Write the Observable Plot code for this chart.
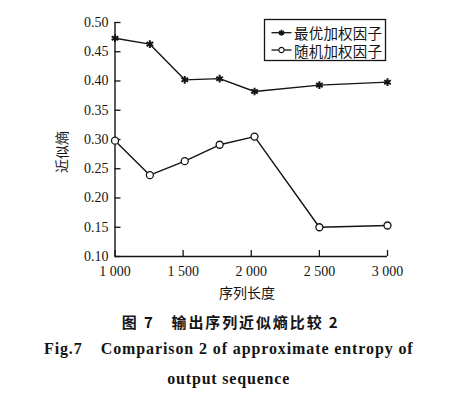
<!DOCTYPE html>
<html><head><meta charset="utf-8">
<script src="https://cdn.jsdelivr.net/npm/d3@7"></script>
<script src="https://cdn.jsdelivr.net/npm/@observablehq/plot@0.6"></script>
<style>
body{margin:0;background:#fff;}
#wrap{position:relative;width:464px;height:396px;overflow:hidden;background:#fff;}
#wrap svg{display:block;overflow:visible;}
</style></head><body>
<div id="wrap"></div>
<script>
// ---- data ----
const seqLength = [1000, 1256, 1512, 1768, 2024, 2500, 3000];
const optimalWeights = [0.473, 0.463, 0.402, 0.404, 0.382, 0.393, 0.398];
const randomWeights  = [0.298, 0.239, 0.263, 0.291, 0.305, 0.150, 0.153];
const seriesNames = ["最优加权因子", "随机加权因子"];
const xTicks = [1000, 1500, 2000, 2500, 3000];
const yTicks = [0.10, 0.15, 0.20, 0.25, 0.30, 0.35, 0.40, 0.45, 0.50];
const xLabel = "序列长度";
const yLabel = "近似熵";
const captionCN = "图 7　输出序列近似熵比较 2";
const captionFig = "Fig.7";
const captionEN1 = "Comparison 2 of approximate entropy of";
const captionEN2 = "output sequence";

const rows = seqLength.flatMap((x, i) => [
  {x, y: optimalWeights[i], s: seriesNames[0]},
  {x, y: randomWeights[i], s: seriesNames[1]}
]);

const ink = "#141414";
const W = 464, H = 302;
const serif = "'Liberation Serif','Times New Roman',serif";
const cjk = "'Noto Sans CJK SC',sans-serif";

const plot = Plot.plot({
  width: W, height: H,
  marginLeft: 114.5, marginRight: 77, marginTop: 22, marginBottom: H - 256,
  style: {fontFamily: serif, fontSize: "14px", color: ink, background: "#fff"},
  x: {domain: [1000, 3000]},
  y: {domain: [0.10, 0.50]},
  marks: [
    Plot.ruleX([1000], {stroke: ink, strokeWidth: 1.4}),
    Plot.ruleY([0.10], {stroke: ink, strokeWidth: 1.4}),
    Plot.axisX({ticks: xTicks, tickSize: -6, tickPadding: 16, strokeWidth: 1.3,
      tickFormat: d => d3.format(",")(d).replace(",", " "), label: null}),
    Plot.axisY({ticks: yTicks, tickSize: -6, tickPadding: 12.5, strokeWidth: 1.3,
      tickFormat: d => d.toFixed(2), label: null}),
    Plot.line(rows, {x: "x", y: "y", z: "s", stroke: ink, strokeWidth: 1.4}),
    Plot.dot(rows.filter(d => d.s === seriesNames[0]), {x: "x", y: "y", symbol: "asterisk", r: 3.6, stroke: ink, strokeWidth: 2}),
    Plot.dot(rows.filter(d => d.s === seriesNames[1]), {x: "x", y: "y", symbol: "circle", r: 3.5, fill: "#fff", stroke: ink, strokeWidth: 1.3})
  ]
});
document.getElementById("wrap").appendChild(plot);

const svg = d3.select(plot);
// axis titles
svg.append("text").attr("x", 247).attr("y", 291.5).attr("text-anchor", "middle")
  .attr("dominant-baseline", "central").attr("font-family", cjk).attr("font-size", 14)
  .attr("fill", ink).text(xLabel);
svg.append("text").attr("transform", "translate(61,152) rotate(-90)").attr("text-anchor", "middle")
  .attr("dominant-baseline", "central").attr("font-family", cjk).attr("font-size", 14)
  .attr("fill", ink).text(yLabel);

// legend
const lg = svg.append("g").attr("text-anchor", "start");
lg.append("rect").attr("x", 264.5).attr("y", 19.5).attr("width", 121).attr("height", 41)
  .attr("fill", "#fff").attr("stroke", ink).attr("stroke-width", 1.3);
const legendSym = [d3.symbolAsterisk, d3.symbolCircle];
const legendY = [32.7, 50];
seriesNames.forEach((name, i) => {
  const y = legendY[i];
  lg.append("line").attr("x1", 271.5).attr("x2", 291.5).attr("y1", y).attr("y2", y)
    .attr("stroke", ink).attr("stroke-width", 1.3);
  lg.append("path").attr("transform", `translate(281.5,${y})`)
    .attr("d", d3.symbol(legendSym[i], i === 0 ? 24 : 22)())
    .attr("fill", i === 0 ? "none" : "#fff").attr("stroke", ink).attr("stroke-width", i === 0 ? 1.8 : 1.2);
  lg.append("text").attr("x", 294).attr("y", y).attr("text-anchor", "start").attr("dominant-baseline", "central")
    .attr("font-family", cjk).attr("font-size", 14.5).attr("fill", ink)
    .attr("textLength", 88).attr("lengthAdjust", "spacing").text(name);
});

// captions
const cap = d3.select("#wrap").append("svg").attr("width", W).attr("height", 396 - H);
const oy = H;
cap.append("text").attr("x", 121.7).attr("y", 321.7 - oy).attr("dominant-baseline", "central")
  .attr("font-family", cjk).attr("font-weight", 700).attr("font-size", 15).attr("fill", ink)
  .attr("textLength", 216).attr("lengthAdjust", "spacing").text(captionCN);
cap.append("text").attr("x", 44).attr("y", 348.5 - oy).attr("dominant-baseline", "central")
  .attr("font-family", serif).attr("font-weight", 700).attr("font-size", 16).attr("fill", ink)
  .attr("textLength", 37.7).attr("lengthAdjust", "spacing").text(captionFig);
cap.append("text").attr("x", 100.7).attr("y", 348.5 - oy).attr("dominant-baseline", "central")
  .attr("font-family", serif).attr("font-weight", 700).attr("font-size", 16).attr("fill", ink)
  .attr("textLength", 312).attr("lengthAdjust", "spacing").text(captionEN1);
cap.append("text").attr("x", 167.3).attr("y", 378.5 - oy).attr("dominant-baseline", "central")
  .attr("font-family", serif).attr("font-weight", 700).attr("font-size", 16).attr("fill", ink)
  .attr("textLength", 122).attr("lengthAdjust", "spacing").text(captionEN2);
</script>
</body></html>
